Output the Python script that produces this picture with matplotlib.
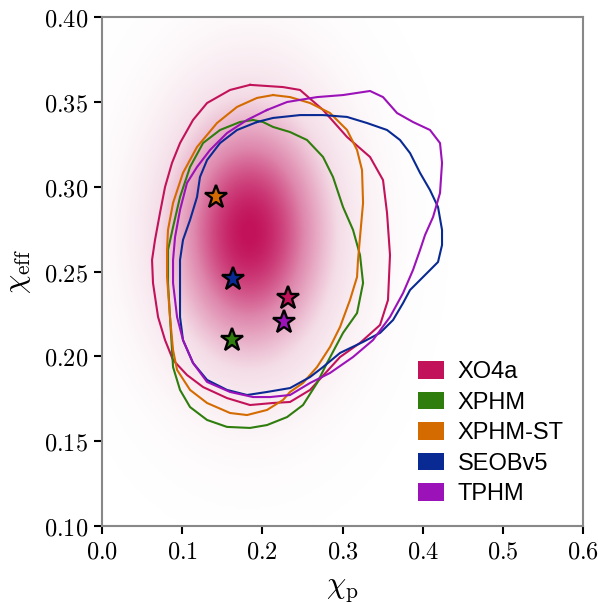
import numpy as np
import matplotlib
matplotlib.use("Agg")
import matplotlib.pyplot as plt
from matplotlib.colors import LinearSegmentedColormap
from matplotlib.patches import Patch
from matplotlib.ticker import FuncFormatter

plt.rcParams['mathtext.fontset'] = 'cm'

# 90% contours, (chi_p, chi_eff)
xo4a_x = [0.1846, 0.2258, 0.2470, 0.2757, 0.3056, 0.3343, 0.3505, 0.3555, 0.3592, 0.3567, 0.3468,
          0.3218, 0.2969, 0.2595, 0.2345, 0.2133, 0.1846, 0.1559, 0.1260, 0.1060, 0.0886, 0.0786,
          0.0699, 0.0636, 0.0624, 0.0661, 0.0723, 0.0786, 0.0873, 0.0973, 0.1135, 0.1310, 0.1597]
xo4a_y = [0.3600, 0.3587, 0.3570, 0.3452, 0.3293, 0.3175, 0.3039, 0.2845, 0.2597, 0.2332, 0.2185,
          0.2079, 0.1996, 0.1802, 0.1731, 0.1725, 0.1713, 0.1754, 0.1819, 0.1890, 0.1978, 0.2096,
          0.2232, 0.2432, 0.2568, 0.2686, 0.2845, 0.2998, 0.3140, 0.3257, 0.3393, 0.3493, 0.3570]

xphm_x = [0.1884, 0.2008, 0.2133, 0.2345, 0.2557, 0.2757, 0.2881, 0.3006, 0.3131, 0.3218, 0.3256,
          0.3181, 0.3006, 0.2807, 0.2682, 0.2507, 0.2308, 0.2058, 0.1846, 0.1559, 0.1310, 0.1098,
          0.0973, 0.0886, 0.0873, 0.0848, 0.0823, 0.0823, 0.0886, 0.0973, 0.1098, 0.1260, 0.1472, 0.1721]
xphm_y = [0.3393, 0.3381, 0.3352, 0.3322, 0.3275, 0.3175, 0.3057, 0.2880, 0.2745, 0.2597, 0.2432,
          0.2255, 0.2138, 0.1961, 0.1843, 0.1713, 0.1642, 0.1595, 0.1578, 0.1584, 0.1625, 0.1701,
          0.1802, 0.1937, 0.2037, 0.2232, 0.2432, 0.2627, 0.2762, 0.2939, 0.3116, 0.3257, 0.3334, 0.3381]

xphmst_x = [0.2133, 0.2345, 0.2595, 0.2844, 0.3056, 0.3181, 0.3243, 0.3256, 0.3218, 0.3193, 0.3181,
            0.3093, 0.2969, 0.2844, 0.2682, 0.2507, 0.2345, 0.2258, 0.2058, 0.1809, 0.1597, 0.1310,
            0.1098, 0.0936, 0.0886, 0.0848, 0.0811, 0.0811, 0.0823, 0.0886, 0.1010, 0.1185, 0.1434,
            0.1684, 0.1933]
xphmst_y = [0.3540, 0.3528, 0.3493, 0.3434, 0.3334, 0.3216, 0.3098, 0.2904, 0.2703, 0.2568, 0.2468,
            0.2332, 0.2173, 0.2055, 0.1937, 0.1843, 0.1790, 0.1743, 0.1684, 0.1654, 0.1666, 0.1725,
            0.1802, 0.1920, 0.2037, 0.2232, 0.2468, 0.2627, 0.2745, 0.2904, 0.3081, 0.3234, 0.3375,
            0.3470, 0.3523]

seob_x = [0.1933, 0.2133, 0.2470, 0.2757, 0.3056, 0.3306, 0.3555, 0.3717, 0.3842, 0.3967, 0.4091,
          0.4191, 0.4241, 0.4241, 0.4191, 0.4054, 0.3929, 0.3842, 0.3755, 0.3630, 0.3468, 0.3256,
          0.2969, 0.2757, 0.2595, 0.2345, 0.2058, 0.1809, 0.1559, 0.1310, 0.1135, 0.1010, 0.0973,
          0.0973, 0.0973, 0.1010, 0.1098, 0.1185, 0.1222, 0.1310, 0.1472, 0.1684]
seob_y = [0.3381, 0.3405, 0.3422, 0.3422, 0.3411, 0.3375, 0.3334, 0.3275, 0.3198, 0.3081, 0.2980,
          0.2880, 0.2745, 0.2656, 0.2556, 0.2491, 0.2432, 0.2391, 0.2314, 0.2214, 0.2138, 0.2085,
          0.2020, 0.1937, 0.1878, 0.1813, 0.1790, 0.1772, 0.1802, 0.1861, 0.1961, 0.2096, 0.2232,
          0.2432, 0.2568, 0.2686, 0.2804, 0.2939, 0.3057, 0.3157, 0.3257, 0.3334]

tphm_x = [0.2058, 0.2308, 0.2682, 0.3006, 0.3343, 0.3505, 0.3680, 0.3879, 0.4091, 0.4216, 0.4241,
          0.4216, 0.4129, 0.4029, 0.3967, 0.3879, 0.3755, 0.3592, 0.3380, 0.3131, 0.2844, 0.2595,
          0.2345, 0.2096, 0.1884, 0.1597, 0.1310, 0.1135, 0.1010, 0.0936, 0.0886, 0.0886, 0.0911,
          0.0973, 0.1060, 0.1185, 0.1347, 0.1559, 0.1809]
tphm_y = [0.3452, 0.3499, 0.3528, 0.3540, 0.3564, 0.3528, 0.3434, 0.3381, 0.3334, 0.3257, 0.3140,
          0.2963, 0.2821, 0.2715, 0.2627, 0.2509, 0.2373, 0.2232, 0.2096, 0.1996, 0.1902, 0.1843,
          0.1772, 0.1760, 0.1760, 0.1790, 0.1849, 0.1961, 0.2096, 0.2232, 0.2432, 0.2568, 0.2703,
          0.2863, 0.3022, 0.3116, 0.3216, 0.3316, 0.3393]

# max-likelihood points
star_x = {'XO4a': 0.2320, 'XPHM': 0.1622, 'XPHM-ST': 0.1422, 'SEOBv5': 0.1634, 'TPHM': 0.2270}
star_y = {'XO4a': 0.2344, 'XPHM': 0.2096, 'XPHM-ST': 0.2939, 'SEOBv5': 0.2456, 'TPHM': 0.2202}

labels = ['XO4a', 'XPHM', 'XPHM-ST', 'SEOBv5', 'TPHM']
colors = {'XO4a': '#c2125a', 'XPHM': '#2f7d0c', 'XPHM-ST': '#d46b00',
          'SEOBv5': '#0a2a93', 'TPHM': '#9b12b8'}
contours = {'XO4a': (xo4a_x, xo4a_y), 'XPHM': (xphm_x, xphm_y),
            'XPHM-ST': (xphmst_x, xphmst_y), 'SEOBv5': (seob_x, seob_y),
            'TPHM': (tphm_x, tphm_y)}

dens_center = (0.183, 0.273)
dens_width = (0.082, 0.060)

fig = plt.figure(figsize=(5.98, 6.03), dpi=100)
ax = fig.add_axes([0.1706, 0.1277, 0.8044, 0.8441])

gx = np.linspace(0, 0.6, 400)
gy = np.linspace(0.1, 0.4, 300)
X, Y = np.meshgrid(gx, gy)
Z = np.exp(-0.5 * (((X - dens_center[0]) / dens_width[0]) ** 2 + ((Y - dens_center[1]) / dens_width[1]) ** 2))
cmap = LinearSegmentedColormap.from_list('xo', ['#ffffff', '#f4dce6', '#de86ac', colors['XO4a']])
ax.imshow(Z ** 1.2, extent=[0, 0.6, 0.1, 0.4], origin='lower', aspect='auto', cmap=cmap,
          interpolation='bilinear', zorder=0)

for lab in labels:
    cx, cy = contours[lab]
    ax.plot(cx + cx[:1], cy + cy[:1], color=colors[lab], lw=1.5, zorder=2)

for lab in labels:
    ax.plot(star_x[lab], star_y[lab], marker='*', ms=17, mfc=colors[lab], mec='black',
            mew=1.7, ls='none', zorder=3)

ax.set_xlim(0, 0.6)
ax.set_ylim(0.1, 0.4)
ax.set_xticks(np.arange(0, 0.61, 0.1))
ax.set_yticks(np.arange(0.1, 0.401, 0.05))
ax.xaxis.set_major_formatter(FuncFormatter(lambda v, p: r'$%.1f$' % v))
ax.yaxis.set_major_formatter(FuncFormatter(lambda v, p: r'$%.2f$' % v))
ax.tick_params(direction='out', length=6, width=1.5, labelsize=17.5, colors='black', pad=4)
for s in ax.spines.values():
    s.set_color('#888888')
    s.set_linewidth(1.5)

ax.set_xlabel(r'$\chi_{\rm p}$', fontsize=22, labelpad=8)
ax.set_ylabel(r'$\chi_{\rm eff}$', fontsize=22, labelpad=8)

handles = [Patch(facecolor=colors[l], edgecolor='none', label=l) for l in labels]
ax.legend(handles=handles, loc='lower right', bbox_to_anchor=(0.96, 0.041), frameon=False,
          prop={'family': 'Liberation Sans', 'size': 17}, handlelength=1.1, handleheight=0.75,
          handletextpad=0.6, labelspacing=0.36, borderpad=0, borderaxespad=0)

fig.savefig('out.png', dpi=100)
